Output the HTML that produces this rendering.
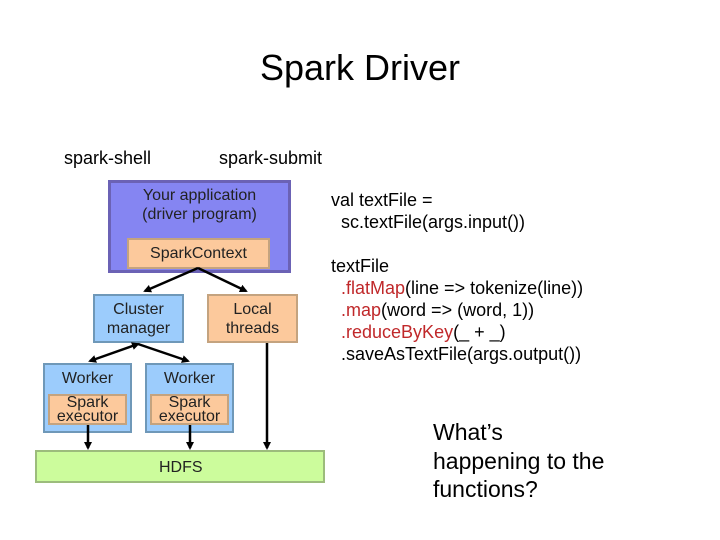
<!DOCTYPE html>
<html><head><meta charset="utf-8"><style>
body{margin:0;width:720px;height:540px;background:#fff;position:relative;font-family:"Liberation Sans",sans-serif;overflow:hidden}
.t{position:absolute;white-space:nowrap;color:#000}
.b{position:absolute;box-sizing:border-box;text-align:center;color:#222;font-size:16px;line-height:19px}
.r{color:#c0282a}
</style></head><body>
<div class="t" style="left:0;width:720px;text-align:center;top:47px;font-size:36px">Spark Driver</div>
<div class="t" style="left:64px;top:148px;font-size:18px">spark-shell</div>
<div class="t" style="left:219px;top:148px;font-size:18px">spark-submit</div>

<div class="b" style="left:108px;top:180px;width:183px;height:93px;background:#8585f2;border:3px solid #6b62b5;padding-top:3px">Your application<br>(driver program)</div>
<div class="b" style="left:127px;top:238px;width:143px;height:31px;background:#fcc99c;border:2px solid #c4a37f;padding-top:4px">SparkContext</div>
<div class="b" style="left:93px;top:294px;width:91px;height:49px;background:#9cccfc;border:2px solid #6f98b8;padding-top:4px">Cluster<br>manager</div>
<div class="b" style="left:207px;top:294px;width:91px;height:49px;background:#fcc99c;border:2px solid #c4a37f;padding-top:4px">Local<br>threads</div>

<div class="b" style="left:43px;top:363px;width:89px;height:70px;background:#9cccfc;border:2px solid #6f98b8;padding-top:4px">Worker</div>
<div class="b" style="left:48px;top:394px;width:79px;height:31px;background:#fcc99c;border:2px solid #c4a37f;line-height:14px;padding-top:0">Spark<br>executor</div>
<div class="b" style="left:145px;top:363px;width:89px;height:70px;background:#9cccfc;border:2px solid #6f98b8;padding-top:4px">Worker</div>
<div class="b" style="left:150px;top:394px;width:79px;height:31px;background:#fcc99c;border:2px solid #c4a37f;line-height:14px;padding-top:0">Spark<br>executor</div>
<div class="b" style="left:35px;top:450px;width:290px;height:33px;background:#ccfc9c;border:2px solid #9cbc7c;padding-top:6px;text-align:left;padding-left:122px">HDFS</div>

<svg style="position:absolute;left:0;top:0" width="720" height="540">
<defs><marker id="a" markerWidth="8" markerHeight="8" refX="6" refY="4" orient="auto" markerUnits="userSpaceOnUse"><path d="M0,0 L8,4 L0,8 z" fill="#000"/></marker>
<marker id="s" markerWidth="8" markerHeight="8" refX="2" refY="4" orient="auto" markerUnits="userSpaceOnUse"><path d="M8,0 L0,4 L8,8 z" fill="#000"/></marker></defs>
<g stroke="#000" stroke-width="2.5" fill="none">
<line x1="198" y1="268" x2="145" y2="291" marker-end="url(#a)"/>
<line x1="198" y1="268" x2="246" y2="291" marker-end="url(#a)"/>
<line x1="138" y1="344" x2="90" y2="361" marker-end="url(#a)" marker-start="url(#s)"/>
<line x1="138" y1="344" x2="188" y2="361" marker-end="url(#a)"/>
<line x1="88" y1="425" x2="88" y2="448" marker-end="url(#a)"/>
<line x1="190" y1="425" x2="190" y2="448" marker-end="url(#a)"/>
<line x1="267" y1="343" x2="267" y2="448" marker-end="url(#a)"/>
</g></svg>

<div class="t" style="left:331px;top:189px;font-size:18px;line-height:22px">val textFile =<br>&nbsp;&nbsp;sc.textFile(args.input())<br><br>textFile<br>&nbsp;&nbsp;<span class="r">.flatMap</span>(line =&gt; tokenize(line))<br>&nbsp;&nbsp;<span class="r">.map</span>(word =&gt; (word, 1))<br>&nbsp;&nbsp;<span class="r">.reduceByKey</span>(_ + _)<br>&nbsp;&nbsp;.saveAsTextFile(args.output())</div>

<div class="t" style="left:433px;top:418px;font-size:23px;line-height:28.5px">What’s<br>happening to the<br>functions?</div>
</body></html>
